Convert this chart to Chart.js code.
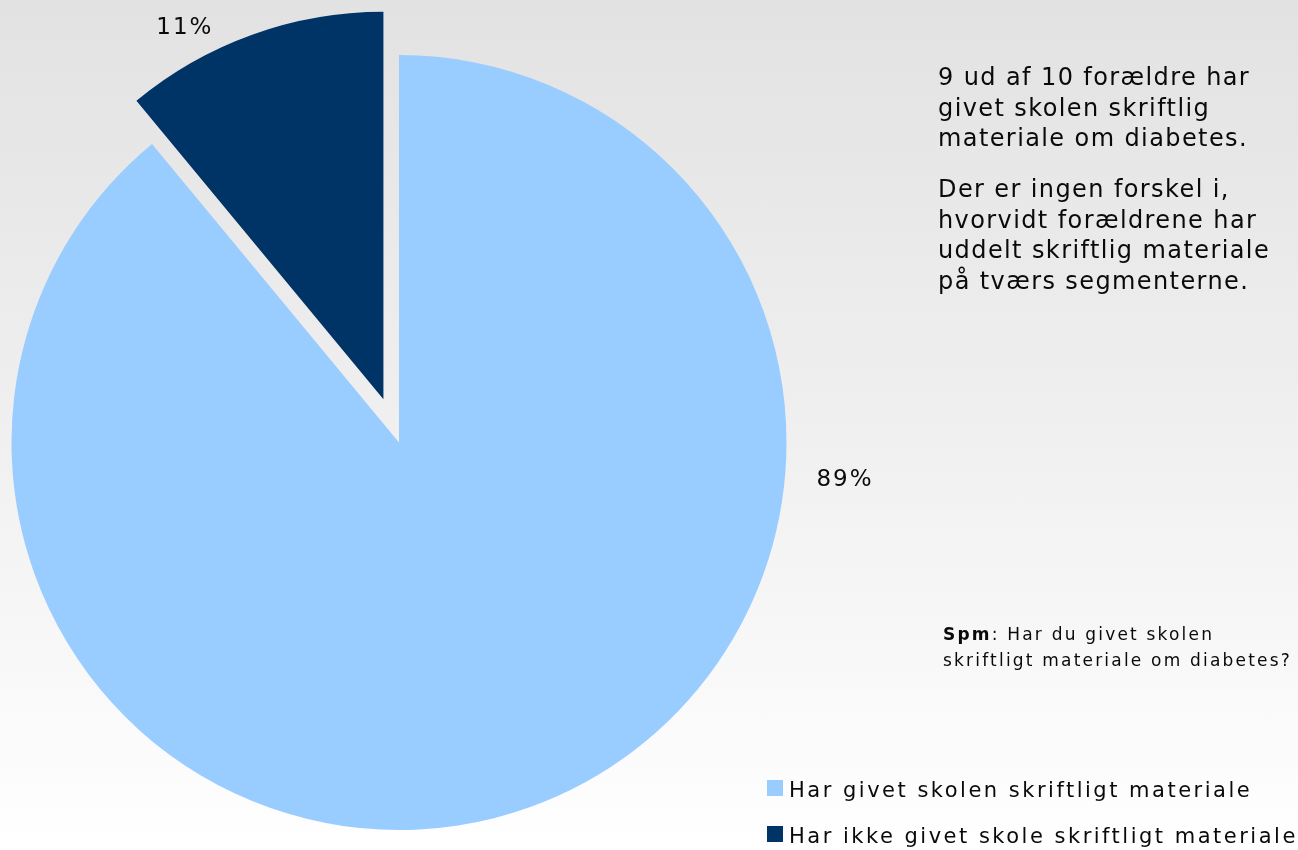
<!DOCTYPE html>
<html>
<head>
<meta charset="utf-8">
<script src="https://cdn.jsdelivr.net/npm/chart.js@4.4.1/dist/chart.umd.min.js"></script>
<style>
  html, body { margin: 0; padding: 0; }
  body { width: 1298px; height: 850px; overflow: hidden; background: linear-gradient(to bottom, #e2e2e2 0%, #f1f1f1 55%, #ffffff 100%); }
  #wrap { position: relative; width: 1298px; height: 850px; }
</style>
</head>
<body>
<div id="wrap"><canvas id="chart-skriftligt" width="1298" height="850"></canvas></div>
<script>
const categories = ['Har givet skolen skriftligt materiale', 'Har ikke givet skole skriftligt materiale'];
const values = [89, 11];
const colors = ['#99CCFF', '#003366'];

const introLines = ['9 ud af 10 forældre har', 'givet skolen skriftlig', 'materiale om diabetes.'];
const noteLines = ['Der er ingen forskel i,', 'hvorvidt forældrene har', 'uddelt skriftlig materiale', 'på tværs segmenterne.'];
const questionLines = ['Har du givet skolen', 'skriftligt materiale om diabetes?'];

const ctxSkriftligt = document.getElementById('chart-skriftligt');
const FONT = "'DejaVu Sans', Verdana, sans-serif";

// pull a slice out along its mid angle without changing its radius
const explodeSlice = {
  id: 'explodeSlice',
  afterUpdate(chart) {
    const distances = [0, 46];
    chart.getDatasetMeta(0).data.forEach((arc, index) => {
      if (!distances[index] || arc._exploded) return;
      const baseDraw = arc.draw;
      arc.draw = function (ctx) {
        const mid = (this.startAngle + this.endAngle) / 2;
        ctx.save();
        ctx.translate(Math.cos(mid) * distances[index], Math.sin(mid) * distances[index]);
        baseDraw.call(this, ctx);
        ctx.restore();
      };
      arc._exploded = true;
    });
  }
};

// percent labels placed outside the slices (angle from top clockwise, distance as radius factor)
const sliceLabels = {
  id: 'sliceLabels',
  afterDatasetsDraw(chart) {
    const { ctx } = chart;
    const arcs = chart.getDatasetMeta(0).data;
    const spots = [{ angle: 94.8, dist: 1.155 }, { angle: -27.3, dist: 1.205 }];
    ctx.save();
    ctx.font = '23px ' + FONT;
    ctx.letterSpacing = '2px';
    ctx.fillStyle = '#0a0a0a';
    ctx.textAlign = 'center';
    ctx.textBaseline = 'middle';
    arcs.forEach((arc, index) => {
      const a = spots[index].angle * Math.PI / 180;
      const r = arc.outerRadius * spots[index].dist;
      ctx.fillText(values[index] + '%', arc.x + Math.sin(a) * r, arc.y - Math.cos(a) * r);
    });
    ctx.restore();
  }
};

// text blocks and legend on the right side
const sideText = {
  id: 'sideText',
  afterDraw(chart) {
    const { ctx } = chart;
    ctx.save();
    ctx.fillStyle = '#0a0a0a';
    ctx.textAlign = 'left';
    ctx.textBaseline = 'alphabetic';

    ctx.font = '24px ' + FONT;
    ctx.letterSpacing = '1.4px';
    introLines.forEach((line, i) => ctx.fillText(line, 938, 85 + i * 30.5));
    noteLines.forEach((line, i) => ctx.fillText(line, 938, 197 + i * 30.5));

    ctx.letterSpacing = '2.2px';
    ctx.font = 'bold 17px ' + FONT;
    ctx.fillText('Spm', 943, 640);
    const w = ctx.measureText('Spm').width;
    ctx.font = '17px ' + FONT;
    ctx.fillText(': ' + questionLines[0], 943 + w, 640);
    ctx.fillText(questionLines[1], 943, 666);

    // legend
    ctx.font = '21px ' + FONT;
    ctx.letterSpacing = '2.5px';
    categories.forEach((label, i) => {
      const y = 797 + i * 46;
      ctx.fillStyle = colors[i];
      ctx.fillRect(767, y - 17, 16, 16);
      ctx.fillStyle = '#0a0a0a';
      ctx.fillText(label, 789, y);
    });
    ctx.restore();
  }
};

new Chart(ctxSkriftligt, {
  type: 'pie',
  data: {
    labels: categories,
    datasets: [{
      data: values,
      backgroundColor: colors,
      borderWidth: 0,
      clip: false
    }]
  },
  options: {
    responsive: false,
    animation: false,
    radius: 387.5,
    layout: {
      padding: { left: 0, right: 500, top: 35, bottom: 0 }
    },
    plugins: {
      legend: { display: false },
      tooltip: { enabled: false }
    }
  },
  plugins: [explodeSlice, sliceLabels, sideText]
});
</script>
</body>
</html>
